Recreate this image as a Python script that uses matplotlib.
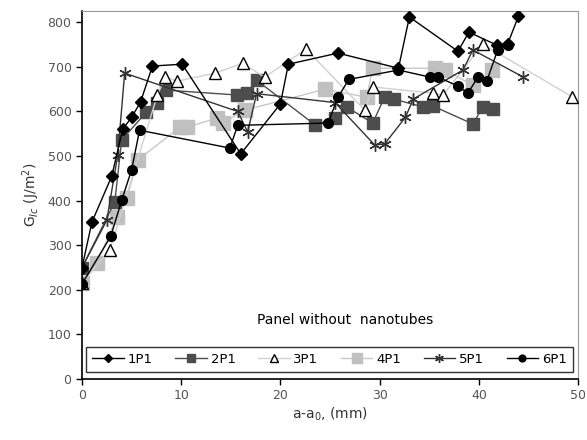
import numpy as np
import matplotlib
matplotlib.use("Agg")
import matplotlib.pyplot as plt

# %% data (crack length a-a0 in mm, G_Ic in J/m2)
x_1p1 = [0, 1, 3, 4.1, 5, 5.9, 7.1, 10.1, 16, 20, 20.8, 25.8, 31.9, 33, 37.9, 39, 41.8, 42.9, 44]
y_1p1 = [250, 352, 455, 560, 587, 621, 702, 706, 505, 617, 706, 731, 697, 812, 735, 778, 749, 751, 814]

x_2p1 = [0, 3.3, 4, 6.5, 7.6, 8.5, 15.6, 16.6, 17.6, 23.5, 25.5, 26.7, 29.3, 30.5, 31.4, 34.4, 35.4, 39.4, 40.4, 41.4]
y_2p1 = [250, 397, 536, 599, 619, 648, 637, 641, 670, 570, 585, 610, 574, 632, 628, 610, 612, 572, 610, 605]

x_3p1 = [0, 2.8, 7.6, 8.4, 9.6, 13.4, 16.2, 18.4, 22.6, 28.5, 29.3, 35.4, 36.4, 40.4, 49.4]
y_3p1 = [215, 289, 637, 677, 668, 686, 708, 677, 740, 603, 655, 641, 637, 751, 633]

x_4p1 = [0, 1.5, 3.5, 4.5, 5.6, 9.9, 10.6, 13.6, 14.2, 16.4, 24.5, 28.7, 29.3, 35.6, 36.6, 39.4, 41.3]
y_4p1 = [215, 260, 363, 405, 491, 565, 565, 585, 574, 603, 650, 632, 697, 697, 693, 659, 693]

x_5p1 = [0, 2.5, 3.6, 4.3, 15.7, 16.7, 17.6, 25.5, 29.5, 30.5, 32.6, 33.4, 38.4, 39.4, 44.5]
y_5p1 = [250, 356, 502, 686, 600, 554, 640, 620, 525, 527, 587, 628, 693, 738, 677]

x_6p1 = [0, 2.9, 4, 5, 5.8, 14.9, 15.7, 24.8, 25.8, 26.9, 31.9, 35.1, 35.9, 37.9, 38.9, 39.9, 40.8, 41.9, 42.9]
y_6p1 = [213, 320, 401, 469, 558, 518, 569, 574, 632, 672, 693, 677, 677, 657, 641, 677, 668, 738, 749]

labels = ['1P1', '2P1', '3P1', '4P1', '5P1', '6P1']

# %% plot
fig = plt.figure(figsize=(5.87, 4.4), dpi=100)
ax = fig.add_axes([0.1397, 0.1386, 0.845, 0.836])

ax.plot(x_1p1, y_1p1, color='black', lw=1, marker='D', ms=6, mfc='black', mec='black', label=labels[0], zorder=6)
ax.plot(x_2p1, y_2p1, color='#4d4d4d', lw=1, marker='s', ms=8, mfc='#4d4d4d', mec='#4d4d4d', label=labels[1], zorder=3)
ax.plot(x_3p1, y_3p1, color='#d0d0d0', lw=1, marker='^', ms=8, mfc='white', mec='black', mew=1, label=labels[2], zorder=4)
ax.plot(x_4p1, y_4p1, color='#c8c8c8', lw=1, marker='s', ms=10, mfc='#c0c0c0', mec='#c0c0c0', label=labels[3], zorder=2)
ax.plot(x_5p1, y_5p1, color='#333333', lw=1, marker=(6, 2, 0), ms=9, mec='#333333', label=labels[4], zorder=5)
ax.plot(x_6p1, y_6p1, color='black', lw=1, marker='o', ms=7, mfc='black', mec='black', label=labels[5], zorder=7)

ax.set_xlim(0, 50)
ax.set_ylim(0, 825)
ax.set_xticks(np.arange(0, 51, 10))
ax.set_yticks(np.arange(0, 801, 100))
ax.tick_params(axis='both', direction='out', length=4, width=1, colors='black', labelcolor='#555555', labelsize=9)

for side in ['top', 'right']:
    ax.spines[side].set_color('#999999')
ax.spines['left'].set_linewidth(1.2)
ax.spines['bottom'].set_linewidth(1.2)

ax.set_xlabel('a-a$_0$, (mm)', fontsize=10, color='#333333', labelpad=2)
ax.set_ylabel('G$_{Ic}$ (J/m$^2$)', fontsize=10, color='#333333', labelpad=4)

ax.text(26.5, 132, 'Panel without  nanotubes', ha='center', va='center', fontsize=10, color='black')

leg = ax.legend(loc='lower left', bbox_to_anchor=(0.008, 0.019, 0.982, 0.087), ncol=6, frameon=True,
                fancybox=False, edgecolor='black', fontsize=9.5, handlelength=2.4, handletextpad=0.3,
                columnspacing=0.6, borderpad=0.45, markerscale=0.7, mode='expand', borderaxespad=0)
leg.get_frame().set_linewidth(1)

fig.savefig('out.png', dpi=100)
